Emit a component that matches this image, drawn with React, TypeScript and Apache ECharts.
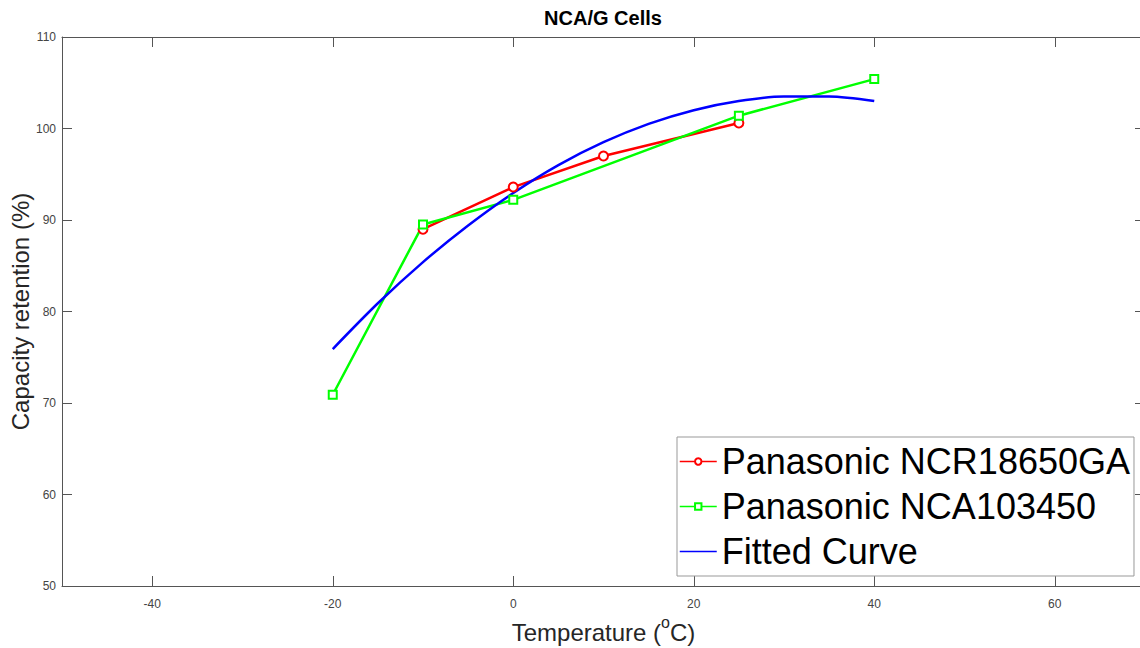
import React, { useEffect, useRef } from "react";
import * as echarts from "echarts";

const xTicks = [-40, -20, 0, 20, 40, 60];
const redTemps = [-10, 0, 10, 25];
const redCap = [89.0, 93.6, 97.0, 100.6];
const greenTemps = [-20, -10, 0, 25, 40];
const greenCap = [70.9, 89.5, 92.2, 101.4, 105.4];
const fitTemps = [-20, -15, -10, -5, 0, 5, 10, 15, 20, 25, 30, 35, 40];
const fitCap = [75.9, 80.9, 85.4, 89.4, 92.95, 96.0, 98.5, 100.5, 102.0, 103.0, 103.5, 103.5, 103.0];
const seriesNames = ["Panasonic NCR18650GA", "Panasonic NCA103450", "Fitted Curve"];

const FONT = "'Liberation Sans', Arial, Helvetica, sans-serif";
const AXIS = "#555555";

export default function App() {
  const ref = useRef<HTMLDivElement>(null);
  useEffect(() => {
    if (!ref.current) return;
    const chart = echarts.init(ref.current, null, { renderer: "svg" });
    const zip = (xs: number[], ys: number[]) => xs.map((x, i) => [x, ys[i]]);
    const axisCommon = {
      type: "value" as const,
      axisLine: { show: true, onZero: false, lineStyle: { color: AXIS, width: 1 } },
      axisTick: { show: true, inside: true, length: 10, lineStyle: { color: AXIS } },
      splitLine: { show: false },
    };
    chart.setOption({
      animation: false,
      textStyle: { fontFamily: FONT },
      graphic: [
        {
          type: "text",
          x: 603,
          y: 18,
          style: {
            text: "NCA/G Cells",
            font: `bold 20px ${FONT}`,
            fill: "#000",
            textAlign: "center",
            textVerticalAlign: "middle",
          },
        },
      ],
      grid: { left: 62, top: 37, right: 5, bottom: 62, containLabel: false, outerBoundsMode: "none" },
      xAxis: [
        {
          ...axisCommon,
          min: -50,
          max: 70,
          position: "bottom",
          axisTick: { ...axisCommon.axisTick, customValues: xTicks },
          axisLabel: { customValues: xTicks, fontSize: 12, color: "#444", margin: 12, fontFamily: FONT },
          name: "{a|Temperature (}{s|o}{a|C)}",
          nameLocation: "middle",
          nameGap: 28,
          nameTextStyle: {
            rich: {
              a: { fontSize: 24, color: "#262626", fontFamily: FONT, lineHeight: 30, verticalAlign: "bottom" },
              s: { fontSize: 16, color: "#262626", fontFamily: FONT, lineHeight: 30, verticalAlign: "top", padding: [0, 0, 10, 0] },
            },
          },
        },
        {
          ...axisCommon,
          min: -50,
          max: 70,
          position: "top",
          axisTick: { ...axisCommon.axisTick, customValues: xTicks },
          axisLabel: { show: false, customValues: xTicks },
        },
      ],
      yAxis: [
        {
          ...axisCommon,
          min: 50,
          max: 110,
          interval: 10,
          position: "left",
          axisLabel: { fontSize: 12, color: "#444", margin: 6, fontFamily: FONT },
          name: "Capacity retention (%)",
          nameLocation: "middle",
          nameGap: 30,
          nameMoveOverlap: false,
          nameTextStyle: { fontSize: 24, color: "#262626", fontFamily: FONT },
        },
        {
          ...axisCommon,
          min: 50,
          max: 110,
          interval: 10,
          position: "right",
          axisLabel: { show: false },
        },
      ],
      legend: {
        orient: "vertical",
        left: 677,
        top: 437,
        padding: [2, 4, 2, 2],
        itemGap: 0,
        itemWidth: 37,
        itemHeight: 8,
        backgroundColor: "#fff",
        borderColor: "#999",
        borderWidth: 1,
        borderRadius: 0,
        lineStyle: { width: 1.5 },
        textStyle: { fontSize: 36, color: "#000", fontFamily: FONT, lineHeight: 45 },
        data: [
          { name: seriesNames[0] },
          { name: seriesNames[1] },
          { name: seriesNames[2], icon: "path://M0 0H37V1.6H0Z" },
        ],
      },
      series: [
        {
          name: seriesNames[0],
          type: "line",
          data: zip(redTemps, redCap),
          symbol: "emptyCircle",
          symbolSize: 9,
          lineStyle: { color: "#ff0000", width: 2.5 },
          itemStyle: { color: "#ff0000", borderWidth: 1.5 },
        },
        {
          name: seriesNames[1],
          type: "line",
          data: zip(greenTemps, greenCap),
          symbol: "emptyRect",
          symbolSize: 8,
          lineStyle: { color: "#00ff00", width: 2.5 },
          itemStyle: { color: "#00ff00", borderWidth: 1.5 },
        },
        {
          name: seriesNames[2],
          type: "line",
          data: zip(fitTemps, fitCap),
          symbol: "none",
          smooth: 0.3,
          lineStyle: { color: "#0000ff", width: 2.5 },
          itemStyle: { color: "#0000ff" },
        },
      ],
    });
    return () => chart.dispose();
  }, []);
  return (
    <div
      ref={ref}
      style={{ position: "fixed", left: 0, top: 0, width: 1150, height: 648, background: "#fff" }}
    />
  );
}
